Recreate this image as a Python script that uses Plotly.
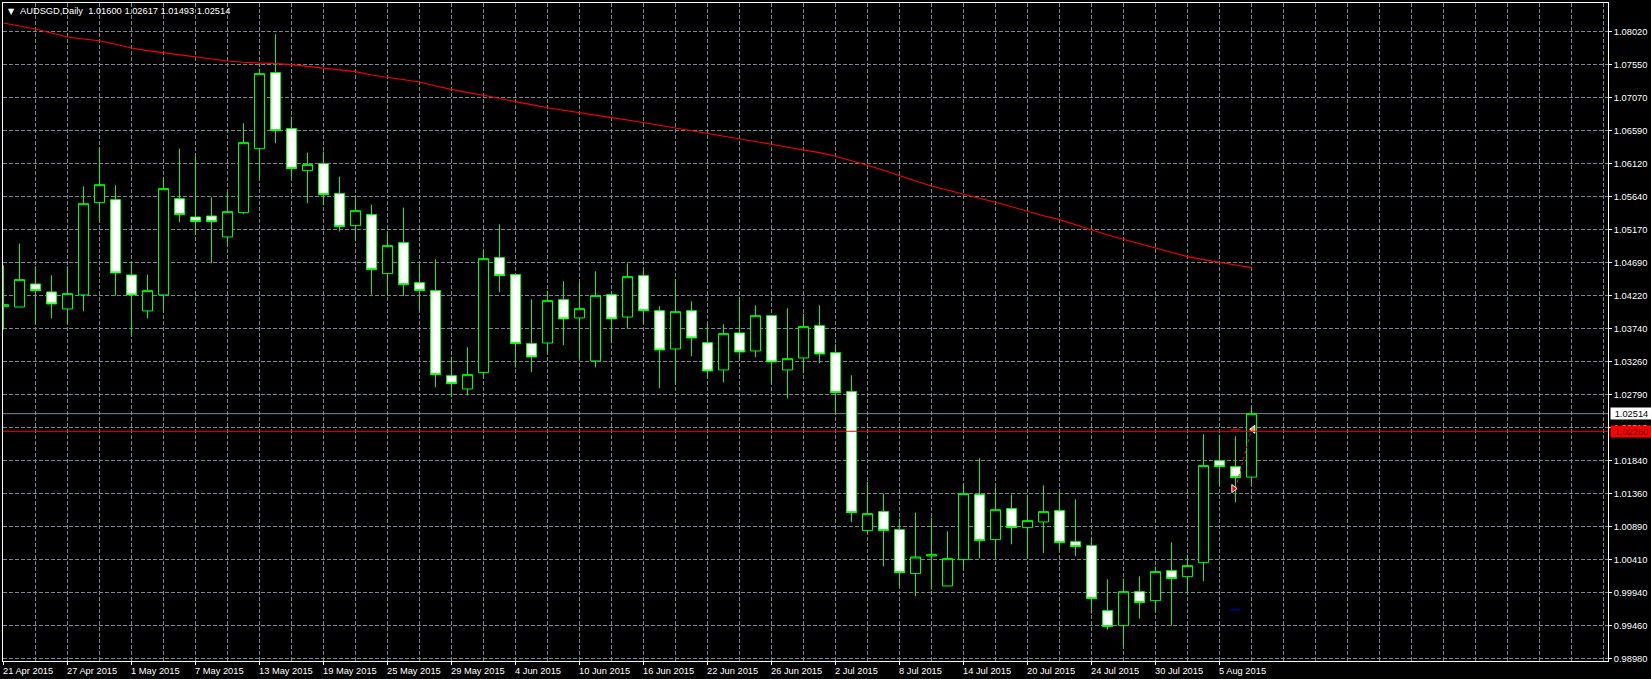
import plotly.graph_objects as go

# AUDSGD daily candles, one session per slot
candle_slots = list(range(79))
opens = [1.04057,1.04052,1.04384,1.04269,1.04024,1.04226,1.05557,1.05600,1.04514,1.03995,
         1.04226,1.05614,1.05350,1.05364,1.05062,1.05413,1.06335,1.07431,1.06624,1.06018,
         1.06119,1.05687,1.05225,1.05384,1.04533,1.04980,1.04403,1.04288,1.03062,1.02870,
         1.03106,1.04764,1.04519,1.03524,1.03533,1.04158,1.03894,1.03274,1.04230,1.03908,
         1.04504,1.03999,1.03447,1.03999,1.03538,1.03144,1.03678,1.03418,1.03927,1.03144,
         1.03317,1.03783,1.03394,1.02832,1.00828,1.01102,1.00842,1.00208,1.00462,1.00030,
         1.00410,1.01347,1.00698,1.01145,1.00871,1.00953,1.01116,1.00669,1.00611,0.99674,
         0.99458,0.99948,0.99818,1.00251,1.00164,1.00366,1.01837,1.01750,1.01600]
highs = [1.04653,1.04966,1.04639,1.04509,1.04639,1.05792,1.06359,1.05807,1.04701,1.04519,
         1.05927,1.06335,1.06225,1.05634,1.05706,1.06701,1.07489,1.07984,1.06797,1.06278,
         1.06292,1.05932,1.05614,1.05528,1.05143,1.05485,1.04668,1.04740,1.03336,1.03471,
         1.04879,1.05244,1.04533,1.04163,1.04288,1.04423,1.04408,1.04567,1.04283,1.04682,
         1.04581,1.04062,1.04456,1.04134,1.03803,1.03803,1.04197,1.04076,1.03942,1.04033,
         1.03956,1.04076,1.03514,1.03067,1.01534,1.01361,1.01001,1.01087,1.01015,1.00818,
         1.01510,1.01871,1.01452,1.01352,1.01347,1.01481,1.01376,1.01279,1.00736,1.00126,
         1.00136,1.00169,1.00309,1.00659,1.00482,1.02217,1.02212,1.02188,1.02617]
lows = [1.03726,1.04052,1.03803,1.03889,1.03803,1.03990,1.05292,1.04216,1.03649,1.03889,
        1.03990,1.05273,1.05086,1.04687,1.04927,1.05393,1.05893,1.06412,1.05922,1.05547,
        1.05518,1.05143,1.04999,1.04230,1.04235,1.04211,1.03995,1.02894,1.02750,1.02779,
        1.03038,1.04264,1.03178,1.03111,1.03384,1.03500,1.03298,1.03183,1.03529,1.03745,
        1.03817,1.02880,1.02952,1.03341,1.03024,1.02966,1.03303,1.03327,1.02937,1.02736,
        1.03096,1.03240,1.02515,1.00948,1.00794,1.00313,1.00015,0.99881,0.99977,1.00030,
        1.00270,1.00429,1.00443,1.00631,1.00429,1.00501,1.00530,1.00458,0.99631,0.99400,
        0.99150,0.99559,0.99665,0.99458,0.99934,1.00097,1.01481,1.01236,1.01493]
closes = [1.04086,1.04447,1.04288,1.04096,1.04245,1.05542,1.05816,1.04543,1.04226,1.04288,
          1.05759,1.05384,1.05283,1.05283,1.05427,1.06422,1.07417,1.06595,1.06047,1.06105,
          1.05672,1.05211,1.05441,1.04591,1.04937,1.04375,1.04288,1.03077,1.02947,1.03077,
          1.04749,1.04504,1.03524,1.03332,1.04144,1.03880,1.04028,1.04216,1.03880,1.04490,
          1.03999,1.03432,1.03985,1.03605,1.03130,1.03668,1.03404,1.03927,1.03260,1.03307,
          1.03769,1.03375,1.02817,1.01087,1.01073,1.00828,1.00222,1.00448,1.00482,1.00424,
          1.01361,1.00684,1.01130,1.00871,1.00972,1.01102,1.00655,1.00597,0.99847,0.99444,
          0.99948,0.99790,1.00237,1.00136,1.00323,1.01765,1.01750,1.01592,1.02514]

# long moving average drawn over the candles
moving_average = [1.08147,1.08104,1.08061,1.08003,1.07945,1.07917,1.07892,1.07840,1.07787,1.07748,
                  1.07719,1.07686,1.07657,1.07623,1.07599,1.07580,1.07575,1.07561,1.07546,1.07522,
                  1.07498,1.07474,1.07446,1.07397,1.07364,1.07325,1.07297,1.07239,1.07186,1.07143,
                  1.07104,1.07056,1.07013,1.06970,1.06926,1.06888,1.06850,1.06816,1.06782,1.06749,
                  1.06705,1.06672,1.06633,1.06595,1.06552,1.06508,1.06470,1.06436,1.06398,1.06355,
                  1.06321,1.06278,1.06225,1.06162,1.06095,1.06023,1.05941,1.05869,1.05797,1.05735,
                  1.05672,1.05619,1.05562,1.05494,1.05432,1.05369,1.05312,1.05244,1.05167,1.05091,
                  1.05028,1.04966,1.04894,1.04836,1.04778,1.04735,1.04692,1.04658,1.04620]

# price scale
price_ticks = [1.08020,1.07544,1.07068,1.06593,1.06117,1.05641,1.05165,1.04689,1.04214,1.03738,
               1.03262,1.02786,1.02310,1.01835,1.01359,1.00883,1.00407,0.99931,0.99456,0.98980]
price_labels = ["1.08020","1.07550","1.07070","1.06590","1.06120","1.05640","1.05170","1.04690",
                "1.04220","1.03740","1.03260","1.02790","1.02310","1.01840","1.01360","1.00890",
                "1.00410","0.99940","0.99460","0.98980"]

# time scale: a label every fourth slot
date_slots = list(range(0, 80, 4))
date_labels = ["21 Apr 2015","27 Apr 2015","1 May 2015","7 May 2015","13 May 2015","19 May 2015",
               "25 May 2015","29 May 2015","4 Jun 2015","10 Jun 2015","16 Jun 2015","22 Jun 2015",
               "26 Jun 2015","2 Jul 2015","8 Jul 2015","14 Jul 2015","20 Jul 2015","24 Jul 2015",
               "30 Jul 2015","5 Aug 2015"]
grid_slots = [s for s in range(2, 102, 2) if s not in date_slots]

# the open position and the current levels
trade_slots = [77, 78]
trade_prices = [1.01434, 1.02289]
stop_level = 1.02282
target_level = 0.99686
last_price = 1.02514
marked_price = 1.02260

GRID = "#778899"
LIME = "#00ff00"
RED = "#ff0000"
LABEL_FONT = dict(family="Liberation Sans", size=9.3, color="white")

fig = go.Figure()
fig.add_trace(go.Candlestick(
    x=candle_slots, open=opens, high=highs, low=lows, close=closes,
    increasing=dict(line=dict(color=LIME, width=1), fillcolor="black"),
    decreasing=dict(line=dict(color=LIME, width=1), fillcolor="white"),
    whiskerwidth=0, hoverinfo="skip",
))
fig.add_trace(go.Scatter(x=candle_slots, y=moving_average, mode="lines",
                         line=dict(color=RED, width=1.1), hoverinfo="skip"))
fig.add_trace(go.Scatter(x=trade_slots, y=trade_prices, mode="lines",
                         line=dict(color=RED, width=1, dash="3px,3px"), hoverinfo="skip"))
fig.add_trace(go.Scatter(x=[trade_slots[0] - 0.12], y=[trade_prices[0]], mode="markers",
                         marker=dict(symbol="triangle-right", size=7, color=RED,
                                     line=dict(color="white", width=1)), hoverinfo="skip"))
fig.add_trace(go.Scatter(x=[trade_slots[1] + 0.1], y=[trade_prices[1]], mode="markers",
                         marker=dict(symbol="triangle-left", size=7, color="#e0a030",
                                     line=dict(color="white", width=1)), hoverinfo="skip"))
fig.add_trace(go.Scatter(x=[77], y=[stop_level], mode="markers",
                         marker=dict(symbol="line-ew", size=7, line=dict(color=RED, width=1)),
                         hoverinfo="skip"))
fig.add_trace(go.Scatter(x=[77], y=[target_level], mode="markers",
                         marker=dict(symbol="line-ew", size=7, line=dict(color="#0000ff", width=1)),
                         hoverinfo="skip"))

fig.add_shape(type="line", xref="paper", x0=0, x1=1, yref="y", y0=last_price, y1=last_price,
              line=dict(color=GRID, width=1), layer="below")
fig.add_shape(type="line", xref="paper", x0=0, x1=1, yref="y", y0=marked_price, y1=marked_price,
              line=dict(color=RED, width=1), layer="above")

annotations = [
    dict(xref="paper", yref="paper", x=0, xshift=15, y=1, yshift=-8, xanchor="left", yanchor="middle",
         showarrow=False, font=LABEL_FONT,
         text="AUDSGD,Daily  1.01600 1.02617 1.01493 1.02514"),
    dict(xref="paper", yref="paper", x=0, xshift=3, y=1, yshift=-8, xanchor="left", yanchor="middle",
         showarrow=False, font=dict(family="DejaVu Sans", size=8, color="white"), text="▼"),
    dict(xref="paper", yref="y", x=1, xshift=2, y=last_price, xanchor="left", yanchor="middle",
         showarrow=False, width=41, height=11, borderpad=0, bgcolor="white", align="center",
         font=dict(family="Liberation Sans", size=9.3, color="black"), text=f"{last_price:.5f}"),
    dict(xref="paper", yref="y", x=1, xshift=2, y=marked_price, xanchor="left", yanchor="middle",
         showarrow=False, width=41, height=11, borderpad=0, bgcolor=RED, align="center",
         font=dict(family="Liberation Sans", size=9.3, color="#400000"), text=f"{marked_price:.5f}"),
]
for slot, label in zip(date_slots, date_labels):
    annotations.append(dict(xref="x", yref="paper", x=slot, xshift=-2.5, y=0, yshift=-9.5,
                            xanchor="left", yanchor="middle", showarrow=False,
                            font=LABEL_FONT, text=label))

fig.update_layout(
    width=1651, height=679, autosize=False,
    margin=dict(l=3, r=43, t=3, b=18, pad=0),
    paper_bgcolor="black", plot_bgcolor="black",
    showlegend=False, boxgap=0.375, boxgroupgap=0, hovermode=False,
    annotations=annotations,
    xaxis=dict(
        range=[-0.03125, 100.28125], rangeslider=dict(visible=False),
        tickmode="array", tickvals=date_slots, showticklabels=False,
        ticks="outside", ticklen=3, tickwidth=1, tickcolor="white",
        showgrid=True, gridcolor=GRID, gridwidth=1, griddash="4px,2px",
        minor=dict(tickmode="array", tickvals=grid_slots, showgrid=True, ticks="",
                   gridcolor=GRID, gridwidth=1, griddash="4px,2px"),
        showline=True, linecolor="white", linewidth=1, mirror=True, zeroline=False,
    ),
    yaxis=dict(
        range=[0.98948, 1.084352], side="right",
        tickmode="array", tickvals=price_ticks, ticktext=price_labels,
        ticks="outside", ticklen=3, tickwidth=1, tickcolor="white",
        tickfont=LABEL_FONT,
        showgrid=True, gridcolor=GRID, gridwidth=1, griddash="4px,2px",
        showline=True, linecolor="white", linewidth=1, mirror=True, zeroline=False,
    ),
)

fig.write_html("out.html", config=dict(displayModeBar=False))
